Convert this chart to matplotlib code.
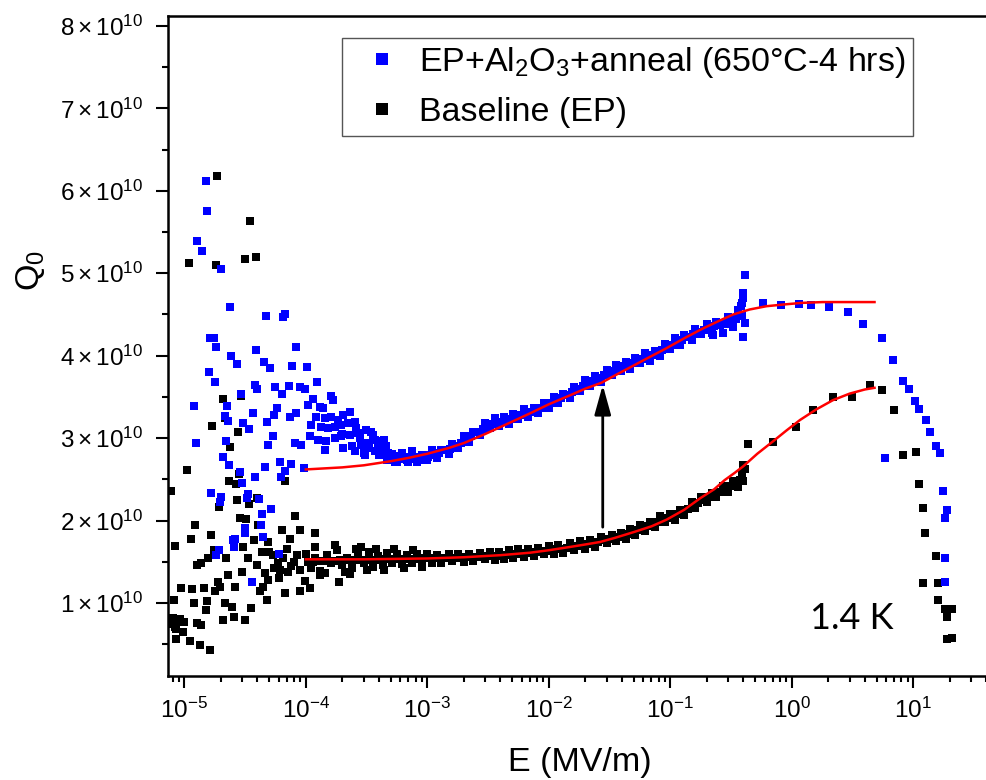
import matplotlib
matplotlib.use("Agg")
import matplotlib.pyplot as plt
from matplotlib.ticker import FixedLocator, FuncFormatter, LogLocator, MultipleLocator

plt.rcParams['font.family'] = ['Liberation Sans', 'DejaVu Sans']
plt.rcParams['mathtext.fontset'] = 'custom'
plt.rcParams['mathtext.rm'] = 'Liberation Sans'
plt.rcParams['mathtext.it'] = 'Liberation Sans:italic'
plt.rcParams['mathtext.bf'] = 'Liberation Sans:bold'
plt.rcParams['xtick.labelsize'] = 17.5
plt.rcParams['ytick.labelsize'] = 17.5

# ---- data (E in MV/m, Q0) ----
# EP + Al2O3 + anneal: scattered low-field points
blue_scatter_E = [1.52e-5, 1.55e-5, 1.26e-5, 1.40e-5, 1.99e-5, 2.36e-5, 4.68e-5, 6.49e-5, 6.78e-5,
                  1.62e-5, 1.75e-5, 1.81e-5, 2.41e-5, 2.73e-5, 3.91e-5, 8.35e-5, 4.50e-5, 5.04e-5,
                  7.65e-5, 1.02e-4, 1.59e-5, 1.78e-5, 1.19e-5, 1.24e-5, 2.23e-5, 2.91e-5, 3.84e-5,
                  3.98e-5, 5.55e-5, 7.23e-5, 6.37e-5, 8.91e-5, 9.85e-5, 1.24e-4, 1.15e-4, 1.60e-4,
                  1.67e-4, 2.15e-5, 2.29e-5, 3.70e-5, 3.04e-5, 3.41e-5, 4.82e-5, 5.47e-5, 5.75e-5,
                  7.41e-5, 8.35e-5, 5.34e-5, 4.89e-5, 2.19e-5, 2.09e-5, 2.32e-5, 4.61e-5, 6.10e-5,
                  7.55e-5, 9.72e-5, 6.70e-5, 6.29e-5, 3.80e-5, 2.86e-5, 2.99e-5, 1.67e-5, 2.02e-5,
                  1.96e-5, 3.34e-5, 3.30e-5, 4.09e-5, 5.14e-5, 4.36e-5, 4.25e-5, 3.18e-5, 3.14e-5,
                  2.60e-5, 2.52e-5, 2.56e-5, 4.44e-5, 1.92e-5, 1.83e-5, 5.98e-5, 3.61e-5,
                  1.04e-4, 1.39e-4, 1.30e-4, 1.22e-4, 1.43e-4, 1.62e-4, 1.84e-4, 2.02e-4, 2.30e-4,
                  1.11e-4, 1.34e-4, 1.52e-4, 1.73e-4, 1.96e-4, 2.22e-4, 2.53e-4,
                  1.08e-4, 1.26e-4, 1.47e-4, 1.73e-4, 1.96e-4, 2.30e-4, 2.69e-4, 3.15e-4, 3.46e-4,
                  8.10e-5, 9.18e-5, 1.43e-4, 2.02e-4, 2.53e-4, 2.86e-4, 3.25e-4, 3.69e-4, 4.18e-4, 4.60e-4,
                  3.05e-4, 3.69e-4, 4.18e-4, 4.75e-4, 5.39e-4, 6.11e-4, 6.94e-4, 7.87e-4, 8.93e-4, 1.01e-3,
                  2.00e-4, 2.40e-4, 2.80e-4, 3.30e-4, 3.90e-4, 4.40e-4, 3.60e-4, 2.60e-4, 3.00e-4, 4.00e-4]
blue_scatter_Q = [6.12e10, 5.75e10, 5.39e10, 5.27e10, 5.05e10, 4.59e10, 4.48e10, 4.47e10, 4.51e10,
                  4.22e10, 4.22e10, 4.11e10, 4.00e10, 3.90e10, 4.07e10, 4.11e10, 3.92e10, 3.85e10,
                  3.88e10, 3.86e10, 3.80e10, 3.68e10, 3.39e10, 2.94e10, 3.39e10, 3.54e10, 3.64e10,
                  3.60e10, 3.62e10, 3.63e10, 3.54e10, 3.62e10, 3.59e10, 3.68e10, 3.48e10, 3.51e10,
                  3.46e10, 3.27e10, 3.21e10, 3.31e10, 3.18e10, 3.11e10, 3.19e10, 3.28e10, 3.36e10,
                  3.26e10, 3.31e10, 3.03e10, 2.92e10, 2.96e10, 2.77e10, 2.67e10, 2.65e10, 2.71e10,
                  2.69e10, 2.64e10, 2.60e10, 2.53e10, 2.53e10, 2.59e10, 2.45e10, 2.34e10, 2.29e10,
                  2.22e10, 2.32e10, 2.27e10, 2.26e10, 2.14e10, 2.08e10, 1.95e10, 1.91e10, 1.85e10,
                  1.78e10, 1.76e10, 1.68e10, 1.80e10, 1.64e10, 1.58e10, 1.60e10, 1.26e10,
                  3.40e10, 3.36e10, 3.38e10, 3.26e10, 3.24e10, 3.26e10, 3.22e10, 3.28e10, 3.32e10,
                  3.16e10, 3.14e10, 3.12e10, 3.14e10, 3.16e10, 3.18e10, 3.20e10,
                  3.02e10, 2.98e10, 2.96e10, 3.00e10, 3.02e10, 3.04e10, 3.06e10, 3.10e10, 3.08e10,
                  2.94e10, 2.92e10, 2.86e10, 2.88e10, 2.84e10, 2.92e10, 2.94e10, 2.98e10, 2.96e10, 2.90e10,
                  2.80e10, 2.84e10, 2.80e10, 2.82e10, 2.71e10, 2.75e10, 2.71e10, 2.75e10, 2.73e10, 2.77e10,
                  3.05e10, 2.90e10, 3.00e10, 2.88e10, 2.92e10, 2.98e10, 3.04e10, 3.12e10, 2.82e10, 2.80e10]

# EP + Al2O3 + anneal: dense band (two outer rows)
blue_band_E = [4.3e-4, 4.7e-4, 5.1e-4, 5.6e-4, 6.2e-4, 6.8e-4, 7.5e-4, 8.2e-4, 9.1e-4,
               1.0e-3, 1.1e-3, 1.2e-3, 1.3e-3, 1.5e-3, 1.6e-3, 1.8e-3, 2.0e-3, 2.2e-3, 2.4e-3, 2.7e-3,
               3.0e-3, 3.3e-3, 3.6e-3, 3.9e-3, 4.3e-3, 4.7e-3, 5.1e-3, 5.6e-3, 6.2e-3, 6.8e-3, 7.5e-3,
               8.2e-3, 9.1e-3, 1.0e-2, 1.1e-2, 1.2e-2, 1.3e-2, 1.5e-2, 1.6e-2, 1.8e-2, 2.0e-2, 2.2e-2,
               2.4e-2, 2.7e-2, 3.0e-2, 3.3e-2, 3.6e-2, 3.9e-2, 4.3e-2, 4.7e-2, 5.1e-2, 5.6e-2, 6.2e-2,
               6.8e-2, 7.5e-2, 8.2e-2, 9.1e-2, 0.10, 0.11, 0.12, 0.13, 0.15, 0.16, 0.18, 0.20, 0.22,
               0.24, 0.27, 0.30, 0.33, 0.36, 0.39,
               0.41, 0.394, 0.39, 0.40, 0.223, 0.40, 0.38, 0.41]
blue_band_Q = [2.85e10, 2.73e10, 2.81e10, 2.71e10, 2.82e10, 2.74e10, 2.84e10, 2.71e10, 2.80e10,
               2.74e10, 2.86e10, 2.76e10, 2.86e10, 2.81e10, 2.93e10, 2.88e10, 3.02e10, 2.95e10, 3.08e10, 3.04e10,
               3.18e10, 3.12e10, 3.24e10, 3.15e10, 3.25e10, 3.17e10, 3.29e10, 3.23e10, 3.35e10, 3.26e10, 3.37e10,
               3.30e10, 3.43e10, 3.37e10, 3.50e10, 3.42e10, 3.53e10, 3.49e10, 3.62e10, 3.57e10, 3.71e10, 3.63e10,
               3.75e10, 3.68e10, 3.83e10, 3.77e10, 3.89e10, 3.81e10, 3.92e10, 3.84e10, 3.97e10, 3.91e10, 4.03e10,
               3.94e10, 4.06e10, 3.99e10, 4.14e10, 4.08e10, 4.21e10, 4.13e10, 4.25e10, 4.19e10, 4.32e10, 4.26e10,
               4.39e10, 4.27e10, 4.41e10, 4.28e10, 4.47e10, 4.35e10, 4.55e10, 4.48e10,
               4.98e10, 4.76e10, 4.64e10, 4.23e10, 4.25e10, 4.70e10, 4.60e10, 4.40e10]
# EP + Al2O3 + anneal: dense band (middle row)
blue_mid_E = [4.5e-4, 4.9e-4, 5.3e-4, 5.9e-4, 6.5e-4, 7.1e-4, 7.8e-4, 8.6e-4, 9.5e-4,
              1.05e-3, 1.15e-3, 1.25e-3, 1.4e-3, 1.55e-3, 1.7e-3, 1.9e-3, 2.1e-3, 2.3e-3, 2.55e-3,
              2.85e-3, 3.15e-3, 3.45e-3, 3.75e-3, 4.1e-3, 4.5e-3, 4.9e-3, 5.35e-3, 5.9e-3, 6.5e-3,
              7.1e-3, 7.85e-3, 8.6e-3, 9.5e-3, 1.05e-2, 1.15e-2, 1.25e-2, 1.4e-2, 1.55e-2, 1.7e-2,
              1.9e-2, 2.1e-2, 2.3e-2, 2.55e-2, 2.85e-2, 3.15e-2, 3.45e-2, 3.75e-2, 4.1e-2, 4.5e-2,
              4.9e-2, 5.35e-2, 5.9e-2, 6.5e-2, 7.1e-2, 7.85e-2, 8.6e-2, 9.5e-2, 0.105, 0.115, 0.125,
              0.14, 0.155, 0.17, 0.19, 0.21, 0.23, 0.255, 0.285, 0.315, 0.345, 0.375]
blue_mid_Q = [2.79e10, 2.78e10, 2.78e10, 2.775e10, 2.77e10, 2.77e10, 2.77e10, 2.77e10, 2.78e10,
              2.79e10, 2.80e10, 2.82e10, 2.85e10, 2.87e10, 2.90e10, 2.94e10, 2.98e10, 3.03e10, 3.08e10,
              3.11e10, 3.14e10, 3.17e10, 3.19e10, 3.20e10, 3.22e10, 3.235e10, 3.25e10, 3.275e10, 3.30e10,
              3.32e10, 3.345e10, 3.37e10, 3.395e10, 3.425e10, 3.455e10, 3.485e10, 3.525e10, 3.56e10, 3.59e10,
              3.63e10, 3.665e10, 3.695e10, 3.725e10, 3.76e10, 3.795e10, 3.82e10, 3.845e10, 3.87e10, 3.89e10,
              3.91e10, 3.93e10, 3.955e10, 3.98e10, 4.005e10, 4.035e10, 4.07e10, 4.10e10, 4.135e10, 4.165e10, 4.195e10,
              4.23e10, 4.26e10, 4.285e10, 4.315e10, 4.34e10, 4.355e10, 4.37e10, 4.39e10, 4.415e10, 4.45e10, 4.485e10]

# EP + Al2O3 + anneal: high-field points
blue_high_E = [0.577, 0.815, 1.15, 1.44, 2.04, 2.92, 3.88, 5.52, 6.77, 8.28, 9.27, 10.3, 11.2,
               12.7, 13.7, 15.4, 16.6, 5.89, 17.7, 18.8, 18.2, 18.2, 18.2]
blue_high_Q = [4.64e10, 4.61e10, 4.63e10, 4.61e10, 4.59e10, 4.53e10, 4.38e10, 4.22e10, 3.95e10,
               3.69e10, 3.60e10, 3.45e10, 3.35e10, 3.22e10, 3.07e10, 2.90e10, 2.82e10, 2.76e10,
               2.36e10, 2.13e10, 2.03e10, 1.55e10, 1.25e10]

# Baseline (EP): scattered low-field points
black_scatter_E = [1.87e-5, 3.45e-5, 1.09e-5, 1.83e-5, 3.18e-5, 3.91e-5, 2.09e-5, 2.91e-5, 2.15e-5,
                   1.70e-5, 2.77e-5, 2.38e-5, 1.06e-5, 7.73e-6, 2.82e-5, 2.32e-5, 2.68e-5, 6.70e-5,
                   2.71e-5, 3.41e-5, 3.96e-5, 1.93e-5, 2.86e-5, 3.24e-5, 4.04e-5, 8.10e-5, 1.23e-5,
                   1.67e-5, 1.13e-5, 8.43e-6, 6.41e-5, 8.91e-5, 1.18e-4, 7.41e-5, 1.75e-5, 1.57e-5,
                   1.38e-5, 1.28e-5, 2.22e-5, 3.75e-5, 4.89e-5, 3.04e-5, 3.34e-5, 3.99e-5, 5.37e-5,
                   5.90e-5, 4.36e-5, 2.29e-5, 2.99e-5, 1.89e-5, 2.60e-5, 4.59e-5, 4.89e-5, 6.10e-5,
                   7.13e-5, 9.79e-5, 1.30e-4, 1.87e-4, 9.45e-6, 1.16e-5, 1.45e-5, 1.78e-5, 1.96e-5,
                   4.17e-5, 4.44e-5, 6.70e-5, 8.91e-5, 1.08e-4, 8.23e-6, 1.20e-5, 1.55e-5, 2.17e-5,
                   2.48e-5, 3.56e-5, 4.82e-5, 1.52e-5, 7.82e-6, 8.87e-6, 1.00e-5, 8.34e-6, 9.75e-6,
                   1.26e-5, 1.38e-5, 2.08e-5, 2.56e-5, 3.14e-5, 8.59e-6, 1.11e-5, 1.34e-5, 1.62e-5,
                   2.86e-4, 2.30e-4, 5.0e-5, 6.5e-5, 7.5e-5, 8.5e-5, 9.0e-5, 6.0e-5, 8.0e-5, 7.0e-5, 5.5e-5,
                   8.0e-6, 7.6e-6, 8.6e-6, 9.2e-6,
                   1.2e-4, 1.45e-4, 1.75e-4, 2.1e-4, 2.6e-4, 3.2e-4, 3.8e-4, 4.4e-4, 5.3e-4, 6.4e-4,
                   7.6e-4, 9.0e-4]
black_scatter_Q = [6.18e10, 5.63e10, 5.13e10, 5.10e10, 5.17e10, 5.20e10, 3.47e10, 3.51e10, 3.24e10,
                   3.15e10, 3.08e10, 2.89e10, 2.61e10, 2.36e10, 2.56e10, 2.48e10, 2.44e10, 2.48e10,
                   2.25e10, 2.20e10, 2.27e10, 2.16e10, 2.03e10, 2.02e10, 1.94e10, 2.05e10, 1.95e10,
                   1.83e10, 1.78e10, 1.69e10, 1.89e10, 1.89e10, 1.85e10, 1.78e10, 1.64e10, 1.55e10,
                   1.48e10, 1.46e10, 1.55e10, 1.76e10, 1.74e10, 1.68e10, 1.54e10, 1.46e10, 1.58e10,
                   1.48e10, 1.62e10, 1.34e10, 1.37e10, 1.25e10, 1.19e10, 1.36e10, 1.28e10, 1.40e10,
                   1.38e10, 1.27e10, 1.34e10, 1.25e10, 1.18e10, 1.17e10, 1.18e10, 1.14e10, 1.20e10,
                   1.14e10, 1.20e10, 1.12e10, 1.14e10, 1.18e10, 1.04e10, 1.00e10, 1.02e10, 1.00e10,
                   0.95e10, 0.94e10, 1.04e10, 0.91e10, 0.79e10, 0.78e10, 0.77e10, 0.71e10, 0.65e10,
                   0.76e10, 0.73e10, 0.79e10, 0.83e10, 0.79e10, 0.56e10, 0.54e10, 0.49e10, 0.43e10,
                   1.68e10, 1.35e10, 1.62e10, 1.55e10, 1.45e10, 1.58e10, 1.40e10, 1.30e10, 1.50e10, 1.66e10, 1.42e10,
                   0.82e10, 0.74e10, 0.68e10, 0.80e10,
                   1.68e10, 1.36e10, 1.70e10, 1.38e10, 1.66e10, 1.40e10, 1.66e10, 1.40e10, 1.65e10, 1.42e10,
                   1.64e10, 1.44e10]

# Baseline (EP): dense band (two outer rows)
black_band_E = [1.0e-4, 1.1e-4, 1.2e-4, 1.3e-4, 1.5e-4, 1.6e-4, 1.8e-4, 2.0e-4, 2.2e-4, 2.4e-4,
                2.7e-4, 3.0e-4, 3.3e-4, 3.6e-4, 3.9e-4, 4.3e-4, 4.7e-4, 5.1e-4, 5.6e-4, 6.2e-4,
                6.8e-4, 7.5e-4, 8.2e-4, 9.1e-4, 1.0e-3, 1.1e-3, 1.2e-3, 1.3e-3, 1.5e-3, 1.6e-3,
                1.8e-3, 2.0e-3, 2.2e-3, 2.4e-3, 2.7e-3, 3.0e-3, 3.3e-3, 3.6e-3, 3.9e-3, 4.3e-3,
                4.7e-3, 5.1e-3, 5.6e-3, 6.2e-3, 6.8e-3, 7.5e-3, 8.2e-3, 9.1e-3, 1.0e-2, 1.1e-2,
                1.2e-2, 1.3e-2, 1.5e-2, 1.6e-2, 1.8e-2, 2.0e-2, 2.2e-2, 2.4e-2, 2.7e-2, 3.0e-2,
                3.3e-2, 3.6e-2, 3.9e-2, 4.3e-2, 4.7e-2, 5.1e-2, 5.6e-2, 6.2e-2, 6.8e-2, 7.5e-2,
                8.2e-2, 9.1e-2, 0.10, 0.11, 0.12, 0.13, 0.15, 0.16, 0.18, 0.20, 0.22, 0.24, 0.27,
                0.30, 0.33, 0.36, 0.39, 0.40, 0.41, 0.40]
black_band_Q = [1.60e10, 1.42e10, 1.55e10, 1.39e10, 1.58e10, 1.48e10, 1.64e10, 1.46e10, 1.54e10, 1.42e10,
                1.60e10, 1.48e10, 1.62e10, 1.44e10, 1.57e10, 1.46e10, 1.61e10, 1.48e10, 1.59e10, 1.47e10,
                1.58e10, 1.48e10, 1.59e10, 1.50e10, 1.59e10, 1.49e10, 1.58e10, 1.49e10, 1.60e10, 1.51e10,
                1.60e10, 1.50e10, 1.59e10, 1.51e10, 1.61e10, 1.53e10, 1.62e10, 1.52e10, 1.62e10, 1.53e10,
                1.64e10, 1.55e10, 1.65e10, 1.56e10, 1.65e10, 1.57e10, 1.67e10, 1.59e10, 1.69e10, 1.60e10,
                1.70e10, 1.61e10, 1.73e10, 1.64e10, 1.75e10, 1.66e10, 1.76e10, 1.68e10, 1.80e10, 1.73e10,
                1.83e10, 1.75e10, 1.85e10, 1.78e10, 1.90e10, 1.83e10, 1.94e10, 1.87e10, 1.98e10, 1.92e10,
                2.05e10, 1.98e10, 2.08e10, 2.01e10, 2.13e10, 2.07e10, 2.22e10, 2.15e10, 2.28e10, 2.22e10,
                2.34e10, 2.28e10, 2.42e10, 2.35e10, 2.48e10, 2.41e10, 2.58e10, 2.67e10, 2.62e10, 2.48e10]
# Baseline (EP): dense band (middle row)
black_mid_E = [1.05e-4, 1.15e-4, 1.25e-4, 1.4e-4, 1.55e-4, 1.7e-4, 1.9e-4, 2.1e-4, 2.3e-4, 2.55e-4,
               2.85e-4, 3.15e-4, 3.45e-4, 3.75e-4, 4.1e-4, 4.5e-4, 4.9e-4, 5.35e-4, 5.9e-4, 6.5e-4,
               7.1e-4, 7.85e-4, 8.6e-4, 9.5e-4, 1.05e-3, 1.15e-3, 1.25e-3, 1.4e-3, 1.55e-3, 1.7e-3,
               1.9e-3, 2.1e-3, 2.3e-3, 2.55e-3, 2.85e-3, 3.15e-3, 3.45e-3, 3.75e-3, 4.1e-3, 4.5e-3,
               4.9e-3, 5.35e-3, 5.9e-3, 6.5e-3, 7.1e-3, 7.85e-3, 8.6e-3, 9.5e-3, 1.05e-2, 1.15e-2,
               1.25e-2, 1.4e-2, 1.55e-2, 1.7e-2, 1.9e-2, 2.1e-2, 2.3e-2, 2.55e-2, 2.85e-2, 3.15e-2,
               3.45e-2, 3.75e-2, 4.1e-2, 4.5e-2, 4.9e-2, 5.35e-2, 5.9e-2, 6.5e-2, 7.1e-2, 7.85e-2,
               8.6e-2, 9.5e-2, 0.105, 0.115, 0.125, 0.14, 0.155, 0.17, 0.19, 0.21, 0.23, 0.255,
               0.285, 0.315, 0.345, 0.375]
black_mid_Q = [1.50e10, 1.50e10, 1.51e10, 1.51e10, 1.51e10, 1.515e10, 1.52e10, 1.52e10, 1.52e10, 1.52e10,
               1.52e10, 1.52e10, 1.52e10, 1.52e10, 1.525e10, 1.53e10, 1.53e10, 1.53e10, 1.53e10, 1.53e10,
               1.53e10, 1.53e10, 1.535e10, 1.54e10, 1.54e10, 1.54e10, 1.545e10, 1.55e10, 1.55e10, 1.55e10,
               1.55e10, 1.555e10, 1.555e10, 1.56e10, 1.565e10, 1.57e10, 1.57e10, 1.575e10, 1.58e10, 1.585e10,
               1.59e10, 1.595e10, 1.605e10, 1.61e10, 1.615e10, 1.62e10, 1.625e10, 1.635e10, 1.645e10, 1.655e10,
               1.66e10, 1.67e10, 1.68e10, 1.69e10, 1.705e10, 1.715e10, 1.725e10, 1.74e10, 1.76e10, 1.775e10,
               1.79e10, 1.805e10, 1.82e10, 1.84e10, 1.86e10, 1.88e10, 1.905e10, 1.93e10, 1.955e10, 1.985e10,
               2.01e10, 2.025e10, 2.045e10, 2.075e10, 2.105e10, 2.145e10, 2.18e10, 2.21e10, 2.25e10, 2.285e10,
               2.315e10, 2.35e10, 2.385e10, 2.415e10, 2.45e10, 2.495e10]

# Baseline (EP): high-field points
black_high_E = [0.438, 0.705, 1.08, 1.50, 2.20, 3.11, 4.40, 5.56, 6.94, 8.28, 10.5, 11.1, 12.1,
                12.5, 15.3, 12.1, 16.1, 16.1, 18.2, 20.7, 18.8, 18.8, 20.7]
black_high_Q = [2.93e10, 2.95e10, 3.14e10, 3.34e10, 3.50e10, 3.50e10, 3.64e10, 3.58e10, 3.34e10,
                2.80e10, 2.83e10, 2.44e10, 2.15e10, 1.85e10, 1.57e10, 1.24e10, 1.24e10, 1.04e10,
                0.93e10, 0.93e10, 0.83e10, 0.56e10, 0.57e10]

# fit curves
fit_blue_E = [1.0e-4, 2.0e-4, 3.0e-4, 5.0e-4, 7.0e-4, 1.0e-3, 1.5e-3, 2.0e-3, 3.0e-3, 5.0e-3,
              7.0e-3, 1.0e-2, 1.5e-2, 2.0e-2, 2.7e-2, 3.5e-2, 4.7e-2, 6.5e-2, 9.3e-2, 0.13, 0.18,
              0.25, 0.33, 0.45, 0.62, 0.85, 1.2, 1.8, 2.8, 4.8]
fit_blue_Q = [2.62e10, 2.645e10, 2.67e10, 2.72e10, 2.76e10, 2.81e10, 2.88e10, 2.94e10, 3.05e10, 3.20e10,
              3.30e10, 3.41e10, 3.52e10, 3.60e10, 3.67e10, 3.76e10, 3.86e10, 3.97e10, 4.09e10, 4.21e10,
              4.32e10, 4.42e10, 4.50e10, 4.56e10, 4.60e10, 4.62e10, 4.64e10, 4.65e10, 4.65e10, 4.65e10]
fit_black_E = [1.0e-4, 3.0e-4, 1.0e-3, 2.0e-3, 4.0e-3, 7.0e-3, 1.0e-2, 1.5e-2, 2.0e-2, 2.64e-2,
               3.5e-2, 5.0e-2, 7.0e-2, 9.3e-2, 0.13, 0.176, 0.23, 0.28, 0.34, 0.40, 0.52, 0.70, 0.90,
               1.17, 1.6, 2.18, 3.0, 4.0, 4.8]
fit_black_Q = [1.53e10, 1.53e10, 1.54e10, 1.555e10, 1.58e10, 1.61e10, 1.64e10, 1.68e10, 1.71e10, 1.74e10,
               1.79e10, 1.86e10, 1.93e10, 2.01e10, 2.13e10, 2.27e10, 2.38e10, 2.49e10, 2.58e10, 2.66e10,
               2.81e10, 2.96e10, 3.09e10, 3.22e10, 3.35e10, 3.46e10, 3.54e10, 3.59e10, 3.61e10]

arrow_E = 0.0278
arrow_Q = (1.92e10, 3.644e10)

x_ticks = [1e-5, 1e-4, 1e-3, 1e-2, 1e-1, 1e0, 1e1]
y_ticks = [1e10, 2e10, 3e10, 4e10, 5e10, 6e10, 7e10, 8e10]

# ---- figure ----
fig = plt.figure(figsize=(9.86, 7.80), dpi=100)
ax = fig.add_axes([0.1707, 0.1337, 0.8354, 0.8458])

ms = 6.3
ax.plot(black_scatter_E + black_band_E + black_mid_E + black_high_E,
        black_scatter_Q + black_band_Q + black_mid_Q + black_high_Q,
        's', color='black', ms=ms, mew=0, label='Baseline (EP)', zorder=2)
ax.plot(blue_scatter_E + blue_band_E + blue_mid_E + blue_high_E,
        blue_scatter_Q + blue_band_Q + blue_mid_Q + blue_high_Q,
        's', color='#0000ff', ms=ms, mew=0,
        label='EP+Al$_2$O$_3$+anneal (650°C-4 hrs)', zorder=3)
ax.plot(fit_blue_E, fit_blue_Q, '-', color='red', lw=1.8, zorder=4)
ax.plot(fit_black_E, fit_black_Q, '-', color='red', lw=1.8, zorder=4)

ax.annotate('', xy=(arrow_E, arrow_Q[1]), xytext=(arrow_E, arrow_Q[0]),
            arrowprops=dict(arrowstyle='-|>,head_length=0.9,head_width=0.25',
                            color='black', lw=2, mutation_scale=20,
                            shrinkA=0, shrinkB=0), zorder=5)

ax.set_xscale('log')
ax.set_xlim(7.38e-6, 44.5)
ax.set_ylim(0.118e10, 8.12e10)

ax.yaxis.set_major_locator(FixedLocator(y_ticks))
ax.yaxis.set_minor_locator(MultipleLocator(0.5e10))
ax.yaxis.set_major_formatter(FuncFormatter(
    lambda v, p: r'$%d\times10^{10}$' % round(v / 1e10)))
ax.xaxis.set_major_locator(FixedLocator(x_ticks))
ax.xaxis.set_minor_locator(LogLocator(base=10, subs=range(2, 10), numticks=20))

ax.tick_params(which='both', direction='out', width=1.5, top=False, right=False)
ax.tick_params(which='major', length=8.5)
ax.tick_params(axis='x', which='minor', length=4.3)
ax.tick_params(axis='y', which='minor', length=4.0)
ax.tick_params(axis='x', which='major', pad=7)
ax.tick_params(axis='y', which='major', pad=9.5)
for sp in ax.spines.values():
    sp.set_linewidth(1.8)

ax.set_xlabel('E (MV/m)', fontsize=24.5, labelpad=18)
ax.set_ylabel('Q$_0$', fontsize=24.5)
ax.yaxis.set_label_coords(-0.147, 0.614)

ax.text(0.779, 0.0712, '1.4 K', transform=ax.transAxes, fontsize=26,
        family=['Lato', 'DejaVu Sans'], va='baseline', ha='left')

handles, labels = ax.get_legend_handles_labels()
leg = ax.legend(handles[::-1], labels[::-1], loc='upper left',
                bbox_to_anchor=(341.7 / 986, 1 - 37.7 / 780),
                bbox_transform=fig.transFigure, borderaxespad=0, fontsize=24.5,
                markerscale=1.45, handletextpad=0.11, handlelength=1.94,
                labelspacing=0.5, borderpad=0.22, fancybox=False, framealpha=1,
                edgecolor='#555555')
leg.get_frame().set_linewidth(1.0)

fig.savefig('out.png', dpi=100)
